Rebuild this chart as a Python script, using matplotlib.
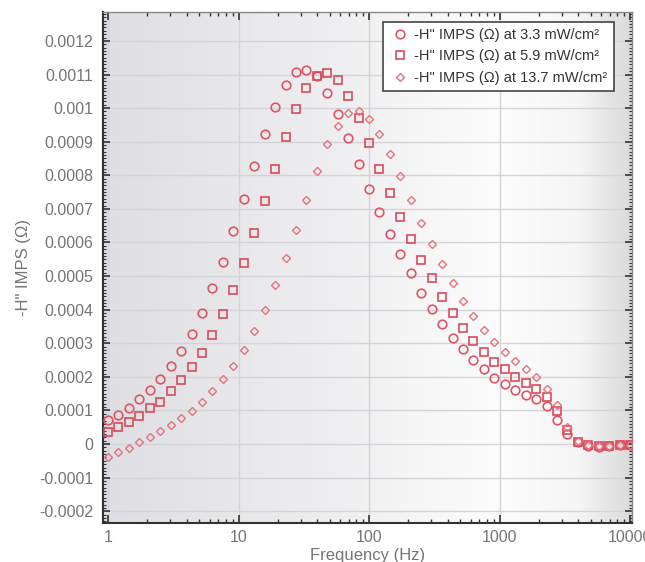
import matplotlib.pyplot as plt, numpy as np
from matplotlib.ticker import MultipleLocator, FuncFormatter, LogLocator, NullFormatter
from matplotlib.colors import LinearSegmentedColormap

# frequency sweep (Hz)
freq = [1, 1.2, 1.45, 1.74, 2.09, 2.51, 3.02, 3.63, 4.37, 5.25,
        6.31, 7.59, 9.12, 10.96, 13.18, 15.85, 19.05, 22.91, 27.54, 33.11,
        39.81, 47.86, 57.54, 69.18, 83.18, 100, 120.2, 144.5, 173.8, 208.9,
        251.2, 302, 363.1, 436.5, 524.8, 631, 758.6, 912, 1096, 1318,
        1585, 1905, 2291, 2754, 3311, 3981, 4786, 5754, 6918, 8318, 10000]

# -H'' IMPS at the three light intensities
h_33 = [7.1e-5, 8.6e-5, 1.08e-4, 1.33e-4, 1.61e-4, 1.93e-4, 2.32e-4, 2.76e-4, 3.29e-4, 3.91e-4,
        4.64e-4, 5.43e-4, 6.34e-4, 7.30e-4, 8.27e-4, 9.22e-4, 1.004e-3, 1.068e-3, 1.108e-3, 1.113e-3,
        1.095e-3, 1.045e-3, 9.81e-4, 9.11e-4, 8.33e-4, 7.60e-4, 6.90e-4, 6.24e-4, 5.65e-4, 5.08e-4,
        4.51e-4, 4.03e-4, 3.56e-4, 3.17e-4, 2.82e-4, 2.50e-4, 2.22e-4, 1.98e-4, 1.78e-4, 1.61e-4,
        1.46e-4, 1.33e-4, 1.12e-4, 7.3e-5, 3.0e-5, 5e-6, -5e-6, -8e-6, -5e-6, -4e-6, -4e-6]
h_59 = [3.5e-5, 5.2e-5, 6.5e-5, 8.3e-5, 1.06e-4, 1.26e-4, 1.57e-4, 1.90e-4, 2.28e-4, 2.72e-4,
        3.24e-4, 3.87e-4, 4.58e-4, 5.38e-4, 6.27e-4, 7.24e-4, 8.20e-4, 9.15e-4, 9.97e-4, 1.06e-3,
        1.097e-3, 1.105e-3, 1.083e-3, 1.035e-3, 9.70e-4, 8.95e-4, 8.20e-4, 7.46e-4, 6.77e-4, 6.09e-4,
        5.48e-4, 4.95e-4, 4.38e-4, 3.91e-4, 3.44e-4, 3.07e-4, 2.75e-4, 2.45e-4, 2.22e-4, 2.00e-4,
        1.81e-4, 1.63e-4, 1.40e-4, 9.7e-5, 4.2e-5, 7e-6, -4e-6, -7e-6, -5e-6, -4e-6, -4e-6]
h_137 = [-3.8e-5, -2.3e-5, -1.1e-5, 5e-6, 2.2e-5, 3.9e-5, 5.7e-5, 7.8e-5, 9.8e-5, 1.24e-4,
         1.58e-4, 1.93e-4, 2.33e-4, 2.80e-4, 3.36e-4, 3.99e-4, 4.72e-4, 5.53e-4, 6.37e-4, 7.26e-4,
         8.13e-4, 8.93e-4, 9.46e-4, 9.84e-4, 9.90e-4, 9.69e-4, 9.24e-4, 8.64e-4, 7.98e-4, 7.26e-4,
         6.59e-4, 5.94e-4, 5.35e-4, 4.78e-4, 4.27e-4, 3.82e-4, 3.39e-4, 3.04e-4, 2.75e-4, 2.48e-4,
         2.22e-4, 2.00e-4, 1.64e-4, 1.15e-4, 5.2e-5, 8e-6, -3e-6, -6e-6, -5e-6, -4e-6, -4e-6]

labels = ['-H" IMPS (\u03a9) at 3.3 mW/cm\u00b2',
          '-H" IMPS (\u03a9) at 5.9 mW/cm\u00b2',
          '-H" IMPS (\u03a9) at 13.7 mW/cm\u00b2']

plt.rcParams['font.family'] = ['Liberation Sans', 'DejaVu Sans']

fig = plt.figure(figsize=(6.45, 5.62), dpi=100)
ax = fig.add_axes([0.1597, 0.0694, 0.8203, 0.9092])

# soft horizontal gradient behind the data
grad = LinearSegmentedColormap.from_list('bg', [
    (0.0, '#dfdfe3'), (0.45, '#efeff1'), (0.75, '#fdfdfd'),
    (0.9, '#f5f5f5'), (1.0, '#dadada')])
ax.imshow(np.linspace(0, 1, 256).reshape(1, -1), cmap=grad, aspect='auto',
          extent=[0, 1, 0, 1], transform=ax.transAxes, zorder=0)

ax.plot(freq, h_33, 'o', ms=6.2, mfc='none', mec='#e05565', mew=1.2, label=labels[0], zorder=3)
ax.plot(freq, h_59, 's', ms=5.6, mfc='none', mec='#d94b5b', mew=1.2, label=labels[1], zorder=3)
ax.plot(freq, h_137, 'D', ms=3.8, mfc='none', mec='#e5737f', mew=1.0, label=labels[2], zorder=3)

ax.set_xscale('log')
ax.set_xlim(0.916, 10360)
ax.set_ylim(-0.000235, 0.001286)

ax.xaxis.set_major_locator(LogLocator(base=10))
ax.xaxis.set_minor_locator(LogLocator(base=10, subs=np.arange(2, 10)))
ax.xaxis.set_minor_formatter(NullFormatter())
ax.xaxis.set_major_formatter(FuncFormatter(lambda v, p: '%d' % round(v)))
ax.yaxis.set_major_locator(MultipleLocator(0.0001))
ax.yaxis.set_minor_locator(MultipleLocator(0.00001))
ax.yaxis.set_major_formatter(FuncFormatter(lambda v, p: '%g' % round(v, 6)))

ax.grid(True, which='major', color='#d4d4d8', lw=1.0, zorder=1)
ax.set_axisbelow(True)

ax.tick_params(which='both', direction='in', top=True, right=True, colors='#333333',
               labelcolor='#757575', labelsize=11.5)
ax.tick_params(axis='x', which='major', length=6, width=1.2, pad=5)
ax.tick_params(axis='x', which='minor', length=3, width=1.0)
ax.tick_params(axis='y', which='major', length=5, width=1.2, pad=7)
ax.tick_params(axis='y', which='minor', length=2.5, width=0.8)

for side in ['left', 'bottom']:
    ax.spines[side].set_color('#333333')
    ax.spines[side].set_linewidth(1.5)
for side in ['top', 'right']:
    ax.spines[side].set_color('#888888')
    ax.spines[side].set_linewidth(1.0)

ax.set_xlabel('Frequency (Hz)', fontsize=12, color='#757575', labelpad=2)
ax.set_ylabel('-H" IMPS (\u03a9)', fontsize=12, color='#757575', labelpad=6)

leg = ax.legend(loc='upper right', bbox_to_anchor=(0.974, 0.99), fontsize=10.5,
                frameon=True, fancybox=False, framealpha=1, edgecolor='#444444',
                borderpad=0.45, labelspacing=0.5, handletextpad=0.3, handlelength=1.4,
                borderaxespad=0.3)
leg.get_frame().set_linewidth(1.2)
for t in leg.get_texts():
    t.set_color('#333333')

fig.savefig('out.png', dpi=100)
